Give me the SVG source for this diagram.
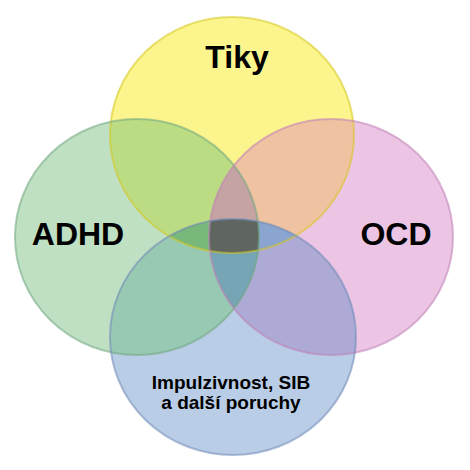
<svg xmlns="http://www.w3.org/2000/svg" xmlns:xlink="http://www.w3.org/1999/xlink" width="470" height="470" viewBox="0 0 470 470">
  <style>
    .lbl { font-family: "Liberation Sans", Arial, sans-serif; font-weight: bold; fill: #000; text-anchor: middle; }
    .big { font-size: 32px; }
    .small { font-size: 19px; }
    .ol { fill: none; stroke-width: 2; stroke-opacity: 0.55; }
  </style>
  <defs>
    <ellipse id="eY" cx="232" cy="135" rx="122" ry="118"/>
    <ellipse id="eG" cx="137" cy="237" rx="122" ry="118"/>
    <ellipse id="eP" cx="331" cy="237" rx="122" ry="118"/>
    <ellipse id="eB" cx="233" cy="337" rx="123" ry="118"/>
    <clipPath id="cY"><use href="#eY"/></clipPath>
    <clipPath id="cG"><use href="#eG"/></clipPath>
    <clipPath id="cP"><use href="#eP"/></clipPath>
    <clipPath id="cB"><use href="#eB"/></clipPath>
  </defs>
  <rect width="470" height="470" fill="#ffffff"/>

  <g id="node-tiky">
    <use href="#eY" fill="#fcf58d"/>
    <text class="lbl big" x="237" y="68">Tiky</text>
  </g>
  <g id="node-adhd">
    <use href="#eG" fill="#bfe0c3"/>
    <text class="lbl big" x="78" y="245">ADHD</text>
  </g>
  <g id="node-ocd">
    <use href="#eP" fill="#ecc5e5"/>
    <text class="lbl big" x="396" y="245">OCD</text>
  </g>
  <g id="node-impulzivnost">
    <use href="#eB" fill="#b9cde6"/>
    <text class="lbl small" x="231" y="389">Impulzivnost, SIB</text>
    <text class="lbl small" x="231" y="409">a další poruchy</text>
  </g>

  <g id="overlaps">
    <g clip-path="url(#cY)"><use href="#eG" fill="#bcdc84"/></g>
    <g clip-path="url(#cY)"><use href="#eP" fill="#efc3a1"/></g>
    <g clip-path="url(#cG)"><use href="#eB" fill="#98c9b3"/></g>
    <g clip-path="url(#cP)"><use href="#eB" fill="#adaad6"/></g>
    <g clip-path="url(#cY)"><g clip-path="url(#cG)"><use href="#eP" fill="#c5a3a3"/></g></g>
    <g clip-path="url(#cY)"><g clip-path="url(#cG)"><use href="#eB" fill="#78b87a"/></g></g>
    <g clip-path="url(#cY)"><g clip-path="url(#cP)"><use href="#eB" fill="#8aa5cf"/></g></g>
    <g clip-path="url(#cG)"><g clip-path="url(#cP)"><use href="#eB" fill="#76a6b5"/></g></g>
    <g clip-path="url(#cY)"><g clip-path="url(#cG)"><g clip-path="url(#cP)"><use href="#eB" fill="#5f6660"/></g></g></g>
  </g>

  <g id="connectors"></g>

  <g id="outlines">
    <use href="#eY" class="ol" stroke="#d6c61c"/>
    <use href="#eG" class="ol" stroke="#6fa67e"/>
    <use href="#eP" class="ol" stroke="#bf80b5"/>
    <use href="#eB" class="ol" stroke="#6f88b6"/>
  </g>
</svg>
